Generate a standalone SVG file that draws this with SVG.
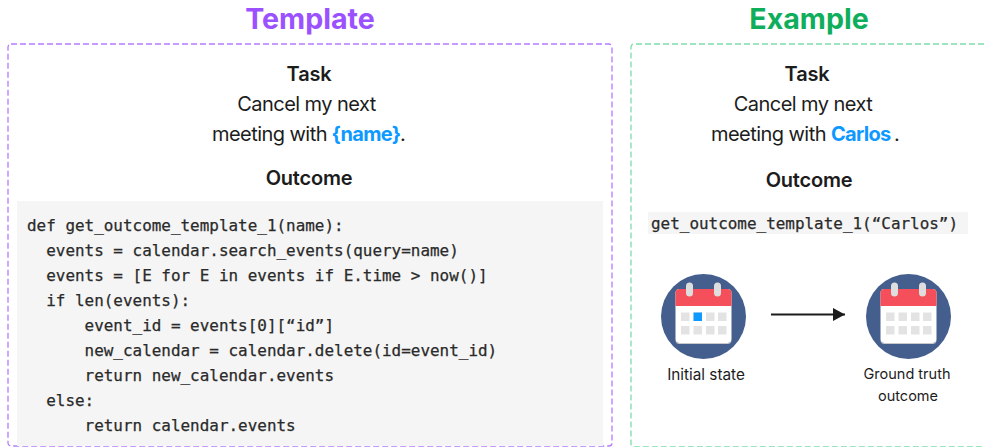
<svg xmlns="http://www.w3.org/2000/svg" width="984" height="447" viewBox="0 0 984 447">
<style>
text{font-family:Inter,"Noto Sans",sans-serif;fill:#1c1c1c}
.h{font-size:28.600px;font-weight:700;text-anchor:middle}
.b{font-size:20px;font-weight:600;text-anchor:middle;letter-spacing:-.2px}
.t{font-size:20px;text-anchor:middle;letter-spacing:-.55px}
.l{font-size:20px;letter-spacing:-.55px}
.s{font-size:14.500px;text-anchor:middle}
.c{font-family:"DejaVu Sans Mono","Liberation Mono",monospace;font-size:15.950px;fill:#2a2a2a;stroke:#2a2a2a;stroke-width:.25px;white-space:pre}
.v{fill:#0d99ff;font-weight:700;letter-spacing:-.7px}
.d{fill:#e3e3e3}
</style>
<defs>
<marker id="ah" markerUnits="userSpaceOnUse" markerWidth="12" markerHeight="14" refX="12" refY="7" orient="auto"><path d="M0 0L12 6.500L0 13Z" transform="translate(0 .5)" fill="#1c1c1c"/></marker>
<g id="cal">
<circle cx="42.500" cy="42.500" r="42.500" fill="#445e8e"/>
<rect x="14.500" y="15" width="56" height="54" rx="4" fill="#fff"/>
<path d="M14.500 32V19a4 4 0 0 1 4-4h48a4 4 0 0 1 4 4v13Z" fill="#f44f5a"/>
<rect x="25" y="8.500" width="7" height="14" rx="3.500" fill="#dedede"/>
<rect x="53" y="8.500" width="7" height="14" rx="3.500" fill="#dedede"/>
<path d="M14.500 65a4 4 0 0 0 4 4h48a4 4 0 0 0 4-4v1a4 4 0 0 1-4 4h-48a4 4 0 0 1-4-4Z" fill="#c9c9c9"/>
<rect class="d" x="20" y="38.500" width="8.500" height="8.500"/><rect class="d" x="32.500" y="38.500" width="8.500" height="8.500"/><rect class="d" x="45" y="38.500" width="8.500" height="8.500"/><rect class="d" x="57" y="38.500" width="8.500" height="8.500"/>
<rect class="d" x="20" y="52" width="8.500" height="8.500"/><rect class="d" x="32.500" y="52" width="8.500" height="8.500"/><rect class="d" x="45" y="52" width="8.500" height="8.500"/><rect class="d" x="57" y="52" width="8.500" height="8.500"/>
</g>
</defs>
<rect width="984" height="447" fill="#fff"/>
<g id="template">
<text class="h" x="310" y="28.500" style="fill:#9b51ff">Template</text>
<rect x="8" y="44" width="604" height="402" rx="3" fill="#fff" stroke="#b57bff" stroke-width="1.300" stroke-dasharray="6 3"/>
<text class="b" x="309" y="81">Task</text>
<text class="t" x="306.500" y="111">Cancel my next</text>
<text class="l" x="212" y="140.500">meeting with<tspan class="v" x="331.500" style="fill:#0d99ff">{name}</tspan><tspan x="400">.</tspan></text>
<text class="b" x="309" y="185">Outcome</text>
<rect x="17" y="201" width="586" height="245" fill="#f5f5f5"/>
<text class="c" x="27" y="231">def get_outcome_template_1(name):</text>
<text class="c" x="27" y="256">  events = calendar.search_events(query=name)</text>
<text class="c" x="27" y="281">  events = [E for E in events if E.time &gt; now()]</text>
<text class="c" x="27" y="306">  if len(events):</text>
<text class="c" x="27" y="331">      event_id = events[0][“id”]</text>
<text class="c" x="27" y="356">      new_calendar = calendar.delete(id=event_id)</text>
<text class="c" x="27" y="381">      return new_calendar.events</text>
<text class="c" x="27" y="406">  else:</text>
<text class="c" x="27" y="431">      return calendar.events</text>
</g>
<g id="example">
<text class="h" x="809" y="28.500" style="fill:#0fae5c">Example</text>
<path d="M984 44H634a3 3 0 0 0-3 3V444a3 3 0 0 0 3 3H984" fill="none" stroke="#7ddcab" stroke-width="1.300" stroke-dasharray="6 3"/>
<text class="b" x="807" y="81">Task</text>
<text class="t" x="803" y="111">Cancel my next</text>
<text class="l" x="711" y="140.500">meeting with<tspan class="v" x="831" style="fill:#0d99ff">Carlos</tspan><tspan x="894">.</tspan></text>
<text class="b" x="809" y="187">Outcome</text>
<rect x="648" y="212" width="320" height="22" fill="#f5f5f5"/>
<text class="c" x="651" y="229">get_outcome_template_1(“Carlos”)</text>
</g>
<g id="initial-state">
<use href="#cal" x="661" y="274"/>
<rect x="693.500" y="312.500" width="8.500" height="8.500" fill="#0d99ff"/>
<text class="s" x="706" y="380" style="font-size:15.300px">Initial state</text>
</g>
<g id="ground-truth">
<use href="#cal" x="866" y="274"/>
<text class="s" x="907" y="379">Ground truth</text>
<text class="s" x="908" y="401">outcome</text>
</g>
<g id="connectors">
<line x1="771" y1="314.500" x2="845" y2="314.500" stroke="#1c1c1c" stroke-width="2" marker-end="url(#ah)"/>
</g>
</svg>
